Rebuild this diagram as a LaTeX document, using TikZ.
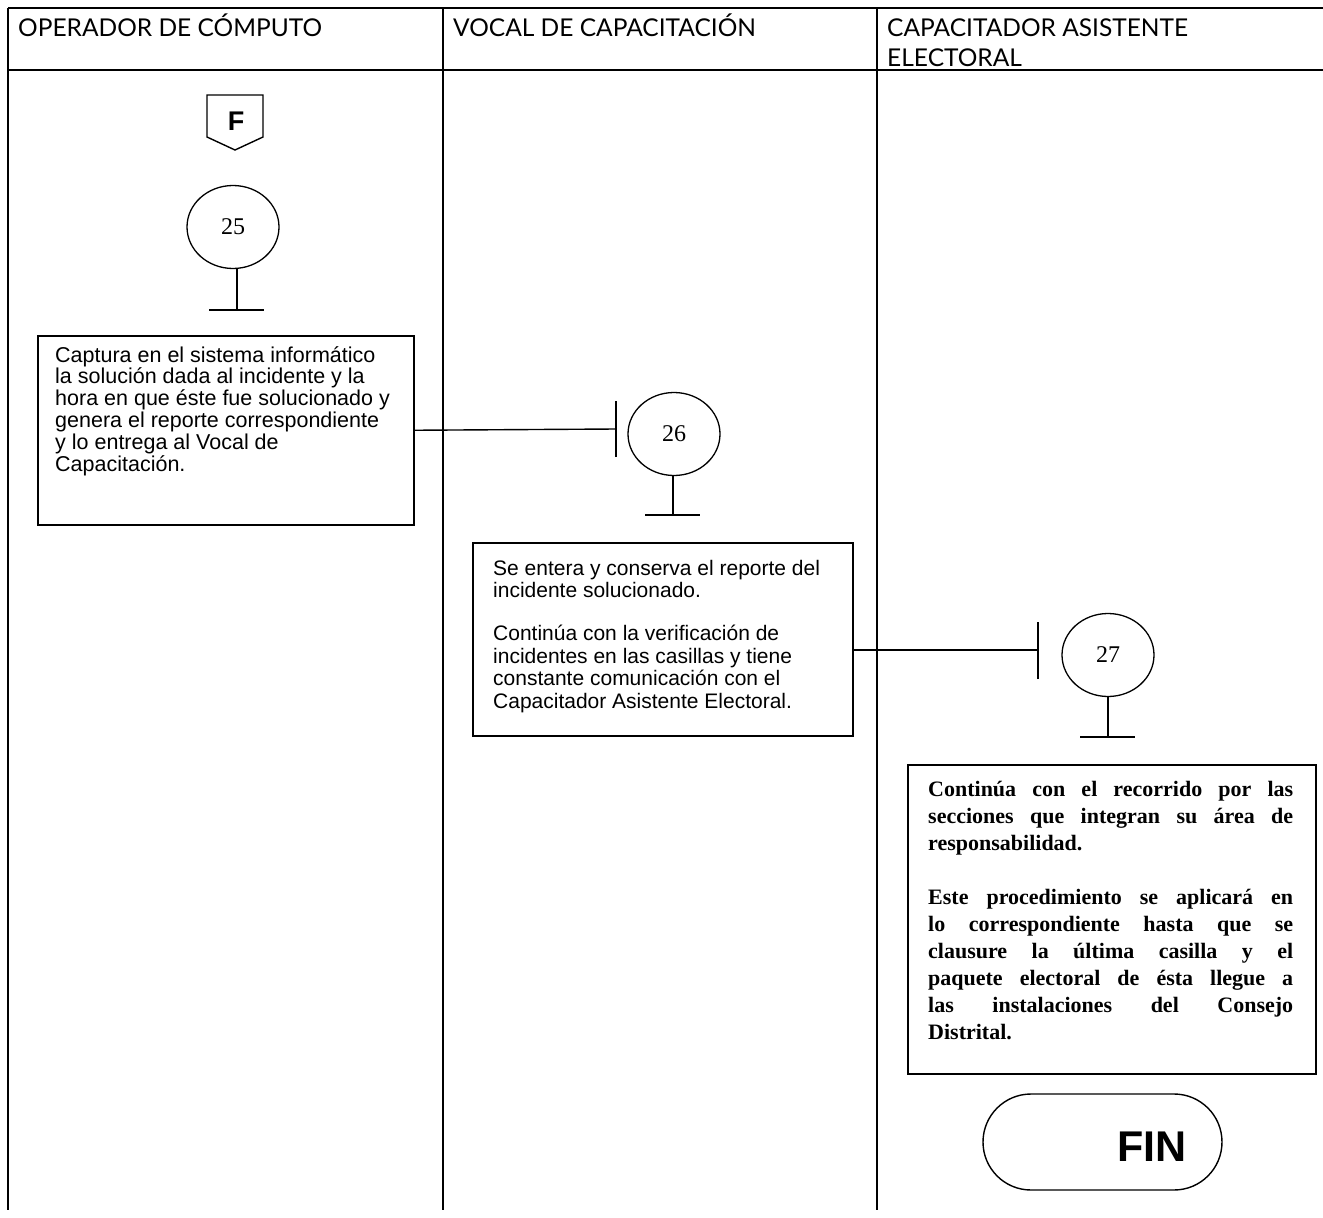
\documentclass[tikz,border=0pt]{standalone}
\usepackage{fontspec}
\setmainfont{Liberation Sans}
\newfontfamily\headfont{Lato}
\newfontfamily\numfont{Liberation Serif}
\usetikzlibrary{shapes.geometric}
\tikzset{
  frame/.style={line width=1.5pt},
  conn/.style={line width=1.4pt},
  procbox/.style={draw, line width=1.5pt, anchor=north west, inner sep=0pt},
  refcircle/.style={draw, ellipse, line width=1.3pt, minimum width=92pt, minimum height=83pt, inner sep=0pt,
    font=\numfont\fontsize{24}{24}\selectfont},
  headtext/.style={anchor=base west, inner sep=0pt, font=\headfont\fontsize{24.5}{30}\selectfont},
  bodytext/.style={anchor=base west, inner sep=0pt},
}
\begin{document}
\begin{tikzpicture}[x=1pt,y=-1pt]
\useasboundingbox (0,0) rectangle (1323,1218);
% frame
\draw[frame] (8,8) -- (1323,8);
\draw[frame] (8,70) -- (1323,70);
\draw[frame] (8,8) -- (8,1210);
\draw[frame] (443,8) -- (443,1210);
\draw[frame] (877,8) -- (877,1210);
% headers
\node[headtext] (h1) at (18,36) {OPERADOR DE CÓMPUTO};
\node[headtext] (h2) at (453,36) {VOCAL DE CAPACITACIÓN};
\node[headtext] (h3) at (887,36) {\parbox[t]{420pt}{\headfont\fontsize{24.5}{30}\selectfont CAPACITADOR ASISTENTE\\ELECTORAL}};
% off-page connector F
\node[inner sep=0pt, font=\bfseries\fontsize{27}{27}\selectfont] (F) at (236,121) {F};
\draw[conn] (207,95) -- (263,95) -- (263,137) -- (235,150) -- (207,137) -- cycle;
% 25
\node[refcircle] (c25) at (233,227) {25};
\coordinate (s25) at (237,310);
\draw[conn] (c25.south -| s25) -- (s25);
\draw[conn] ([xshift=-28pt]s25) -- ([xshift=27pt]s25);
% box 1
\node[procbox, minimum width=376pt, minimum height=189pt] (b1) at (37,335) {};
\node[bodytext] (b1t) at (55,362) {\parbox[t]{355pt}{\raggedright\fontsize{21.5}{21.8}\selectfont
Captura en el sistema informático\\
la solución dada al incidente y la\\
hora en que éste fue solucionado y\\
genera el reporte correspondiente\\
y lo entrega al Vocal de\\
Capacitación.}};
% connector to 26
\coordinate (t26) at (616,429);
\draw[conn] (b1.east) -- (t26);
\draw[conn] ([yshift=-28pt]t26) -- ([yshift=28pt]t26);
% 26
\node[refcircle] (c26) at (674,434) {26};
\coordinate (s26) at (673,515);
\draw[conn] (c26.south -| s26) -- (s26);
\draw[conn] ([xshift=-28pt]s26) -- ([xshift=27pt]s26);
% box 2
\node[procbox, minimum width=380pt, minimum height=193pt] (b2) at (472,542) {};
\node[bodytext] (b2t) at (493,575) {\parbox[t]{355pt}{\raggedright\fontsize{21}{22.7}\selectfont
Se entera y conserva el reporte del\\
incidente solucionado.\\[20pt]
Continúa con la verificación de\\
incidentes en las casillas y tiene\\
constante comunicación con el\\
Capacitador Asistente Electoral.}};
% connector to 27
\coordinate (t27) at (1038,650);
\draw[conn] (b2.east |- t27) -- (t27);
\draw[conn] ([yshift=-29pt]t27) -- ([yshift=28pt]t27);
% 27
\node[refcircle] (c27) at (1108,655) {27};
\coordinate (s27) at (1108,737);
\draw[conn] (c27.south -| s27) -- (s27);
\draw[conn] ([xshift=-28pt]s27) -- ([xshift=27pt]s27);
% box 3
\node[procbox, minimum width=408pt, minimum height=309pt] (b3) at (907,764) {};
\node[bodytext] (b3t) at (928,796) {\parbox[t]{365pt}{\numfont\bfseries\fontsize{22}{27}\selectfont
Continúa con el recorrido por las\linebreak
secciones que integran su área de\linebreak
responsabilidad.\par\vspace{27pt}
Este procedimiento se aplicará en\linebreak
lo correspondiente hasta que se\linebreak
clausure la última casilla y el\linebreak
paquete electoral de ésta llegue a\linebreak
las instalaciones del Consejo\linebreak
Distrital.}};
% FIN
\node[draw, line width=1.4pt, rounded corners=48pt, minimum width=239pt, minimum height=96pt, inner sep=0pt] (fin) at (1102.5,1142) {};
\node[inner sep=0pt, font=\bfseries\fontsize{43}{43}\selectfont] (fint) at (1152,1147) {FIN};
\end{tikzpicture}
\end{document}
